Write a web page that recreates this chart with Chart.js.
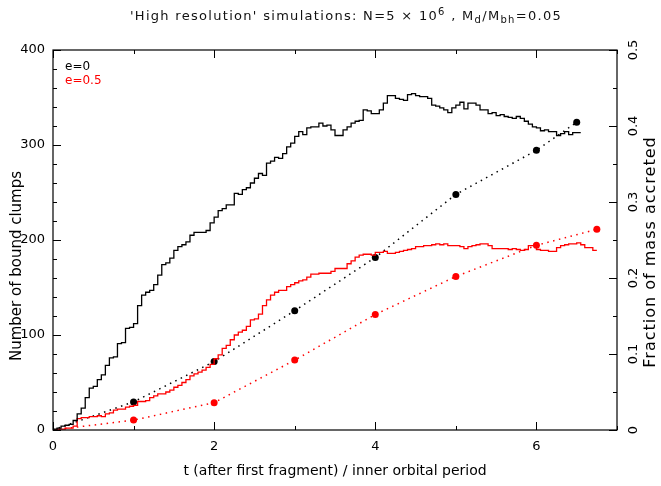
<!DOCTYPE html>
<html>
<head>
<meta charset="utf-8">
<script src="https://cdn.jsdelivr.net/npm/chart.js@4.4.0/dist/chart.umd.min.js"></script>
<style>
  html, body { margin: 0; padding: 0; background: #fff; }
  #wrap { width: 661px; height: 486px; position: relative; }
</style>
</head>
<body>
<div id="wrap"><canvas id="c"></canvas></div>
<script>
// histogram bin width in orbital periods
const DT = 0.05;

// number of bound clumps, one value per bin (from t = 0)
const clumpsE0 = [
  0, 1, 2, 4, 5, 6, 10, 17, 23, 34,
  44, 46, 53, 58, 68, 76, 77, 91, 92, 107,
  108, 112, 131, 142, 145, 147, 153, 163, 174, 176,
  181, 189, 193, 195, 198, 205, 208, 208, 208, 210,
  218, 224, 231, 233, 237, 237, 249, 248, 253, 255,
  260, 265, 270, 268, 281, 283, 287, 286, 291, 298,
  302, 309, 314, 311, 318, 319, 319, 323, 320, 321,
  316, 310, 310, 316, 319, 323, 325, 326, 337, 336,
  333, 333, 337, 344, 352, 352, 349, 348, 347, 353,
  354, 352, 351, 351, 349, 342, 341, 339, 337, 334,
  339, 342, 345, 338, 344, 344, 342, 337, 337, 333,
  334, 331, 332, 330, 329, 328, 330, 328, 325, 322,
  319, 318, 315, 316, 314, 314, 310, 312, 314, 311,
  313, 313
];
const clumpsE05 = [
  0, 0, 1, 1, 2, 2, 4, 12, 13, 13,
  14, 14, 15, 14, 17, 18, 21, 22, 22, 24,
  25, 26, 30, 30, 31, 34, 36, 38, 38, 40,
  42, 45, 47, 50, 53, 57, 59, 61, 63, 66,
  69, 75, 79, 86, 89, 95, 100, 103, 105, 109,
  116, 117, 122, 131, 137, 142, 145, 147, 147, 151,
  153, 155, 157, 158, 161, 164, 164, 165, 165, 165,
  167, 170, 170, 170, 175, 178, 182, 184, 185, 185,
  184, 187, 187, 188, 186, 186, 187, 188, 189, 190,
  191, 193, 193, 194, 194, 195, 196, 195, 196, 194,
  194, 194, 193, 191, 193, 194, 195, 196, 196, 194,
  191, 191, 191, 191, 190, 191, 190, 189, 190, 194,
  194, 190, 189, 189, 188, 188, 192, 194, 195, 196,
  196, 197, 195, 192, 192, 189
];

// fraction of mass accreted (right axis)
const accTimesE0 = [0, 1, 2, 3, 4, 5, 6, 6.5];
const accretedE0 = [0, 0.037, 0.09, 0.157, 0.227, 0.31, 0.368, 0.405];
const accTimesE05 = [0, 1, 2, 3, 4, 5, 6, 6.75];
const accretedE05 = [0, 0.013, 0.036, 0.092, 0.152, 0.202, 0.243, 0.264];

// tick labels
const xTicks = [0, 2, 4, 6];
const yTicks = [0, 100, 200, 300, 400];
const y2Ticks = [0, 0.1, 0.2, 0.3, 0.4, 0.5];

const FONT = "'DejaVu Sans', sans-serif";

const steps = arr => arr.map((v, i) => ({ x: i * DT, y: v }));
const pairs = (xs, ys) => xs.map((x, i) => ({ x: x, y: ys[i] }));
const dotRadius = xs => xs.map(x => (x === 0 ? 0 : 3.5));

// frame, inward ticks, titles and the little legend
const decor = {
  id: "decor",
  afterDraw(chart) {
    const { ctx, chartArea: a, scales } = chart;
    ctx.save();
    ctx.strokeStyle = "#000";
    ctx.lineWidth = 1.2;
    ctx.strokeRect(a.left, a.top, a.right - a.left, a.bottom - a.top);

    const tick = (x1, y1, x2, y2) => {
      ctx.beginPath(); ctx.moveTo(x1, y1); ctx.lineTo(x2, y2); ctx.stroke();
    };
    ctx.lineWidth = 1;
    for (let v = 0; v <= 7; v++) {
      const len = v % 2 === 0 ? 8 : 4;
      const x = Math.round(scales.x.getPixelForValue(v)) + 0.5;
      tick(x, a.bottom, x, a.bottom - len);
      tick(x, a.top, x, a.top + len);
    }
    for (let v = 0; v <= 400; v += 20) {
      const len = v % 100 === 0 ? 8 : 4;
      const y = Math.round(scales.y.getPixelForValue(v)) + 0.5;
      tick(a.left, y, a.left + len, y);
    }
    for (let i = 0; i <= 10; i++) {
      const len = i % 2 === 0 ? 8 : 4;
      const y = Math.round(scales.y2.getPixelForValue(i * 0.05)) + 0.5;
      tick(a.right, y, a.right - len, y);
    }

    // title with super/subscripts
    const parts = [
      ["'High resolution' simulations: N=5 \u00d7 10", 0],
      ["6", -5],
      [" , M", 0],
      ["d", 3],
      ["/M", 0],
      ["bh", 3],
      ["=0.05", 0]
    ];
    const big = "13px " + FONT, small = "10px " + FONT;
    ctx.letterSpacing = "1.3px";
    let w = 0;
    parts.forEach(p => { ctx.font = p[1] ? small : big; w += ctx.measureText(p[0]).width; });
    let x = 346 - w / 2;
    ctx.fillStyle = "#111";
    ctx.textBaseline = "alphabetic";
    ctx.textAlign = "left";
    parts.forEach(p => {
      ctx.font = p[1] ? small : big;
      ctx.fillText(p[0], x, 20 + p[1]);
      x += ctx.measureText(p[0]).width;
    });
    ctx.letterSpacing = "0px";

    // axis titles
    ctx.fillStyle = "#000";
    ctx.font = "14px " + FONT;
    ctx.textAlign = "center";
    ctx.textBaseline = "middle";
    ctx.fillText("t (after first fragment) / inner orbital period", 335, 471);
    ctx.save();
    ctx.font = "15px " + FONT;
    ctx.translate(17, 266);
    ctx.rotate(-Math.PI / 2);
    ctx.fillText("Number of bound clumps", 0, 0);
    ctx.restore();
    ctx.save();
    ctx.font = "16px " + FONT;
    ctx.letterSpacing = "1px";
    ctx.translate(651, 252);
    ctx.rotate(-Math.PI / 2);
    ctx.fillText("Fraction of mass accreted", 0, 0);
    ctx.restore();

    // legend
    ctx.font = "12px " + FONT;
    ctx.textAlign = "left";
    ctx.textBaseline = "alphabetic";
    ctx.fillStyle = "#000";
    ctx.fillText("e=0", 65, 70);
    ctx.fillStyle = "#ff0000";
    ctx.fillText("e=0.5", 65, 84);
    ctx.restore();
  }
};

const tickFont = { family: FONT, size: 13 };

new Chart(document.getElementById("c"), {
  type: "line",
  data: {
    datasets: [
      {
        data: steps(clumpsE0), yAxisID: "y", stepped: "after",
        borderColor: "#000", borderWidth: 1.3, pointRadius: 0
      },
      {
        data: steps(clumpsE05), yAxisID: "y", stepped: "after",
        borderColor: "#ff0000", borderWidth: 1.3, pointRadius: 0
      },
      {
        data: pairs(accTimesE0, accretedE0), yAxisID: "y2",
        borderColor: "#000", borderWidth: 1.5, borderDash: [1.5, 4.5],
        pointRadius: dotRadius(accTimesE0), pointBackgroundColor: "#000",
        pointBorderWidth: 0
      },
      {
        data: pairs(accTimesE05, accretedE05), yAxisID: "y2",
        borderColor: "#ff0000", borderWidth: 1.5, borderDash: [1.5, 4.5],
        pointRadius: dotRadius(accTimesE05), pointBackgroundColor: "#ff0000",
        pointBorderWidth: 0
      }
    ]
  },
  options: {
    responsive: true,
    maintainAspectRatio: false,
    animation: false,
    layout: { padding: { top: 50, left: 0, right: 0, bottom: 0 } },
    plugins: { legend: { display: false }, tooltip: { enabled: false }, title: { display: false } },
    scales: {
      x: {
        type: "linear", min: 0, max: 7,
        grid: { display: false, drawTicks: false },
        border: { display: false },
        afterBuildTicks: s => { s.ticks = xTicks.map(v => ({ value: v })); },
        afterFit: s => { s.height = 56; },
        ticks: { font: tickFont, color: "#000", padding: 9, autoSkip: false, maxRotation: 0 }
      },
      y: {
        position: "left", min: 0, max: 400,
        grid: { display: false, drawTicks: false },
        border: { display: false },
        afterBuildTicks: s => { s.ticks = yTicks.map(v => ({ value: v })); },
        afterFit: s => { s.width = 53; },
        ticks: { font: tickFont, color: "#000", padding: 8, autoSkip: false }
      },
      y2: {
        position: "right", min: 0, max: 0.5,
        grid: { display: false, drawTicks: false },
        border: { display: false },
        afterBuildTicks: s => { s.ticks = y2Ticks.map(v => ({ value: v })); },
        afterFit: s => { s.width = 44; },
        ticks: {
          font: tickFont, color: "#000", padding: 6, autoSkip: false,
          minRotation: 90, maxRotation: 90, crossAlign: "center",
          callback: v => String(v)
        }
      }
    }
  },
  plugins: [decor]
});
</script>
</body>
</html>
